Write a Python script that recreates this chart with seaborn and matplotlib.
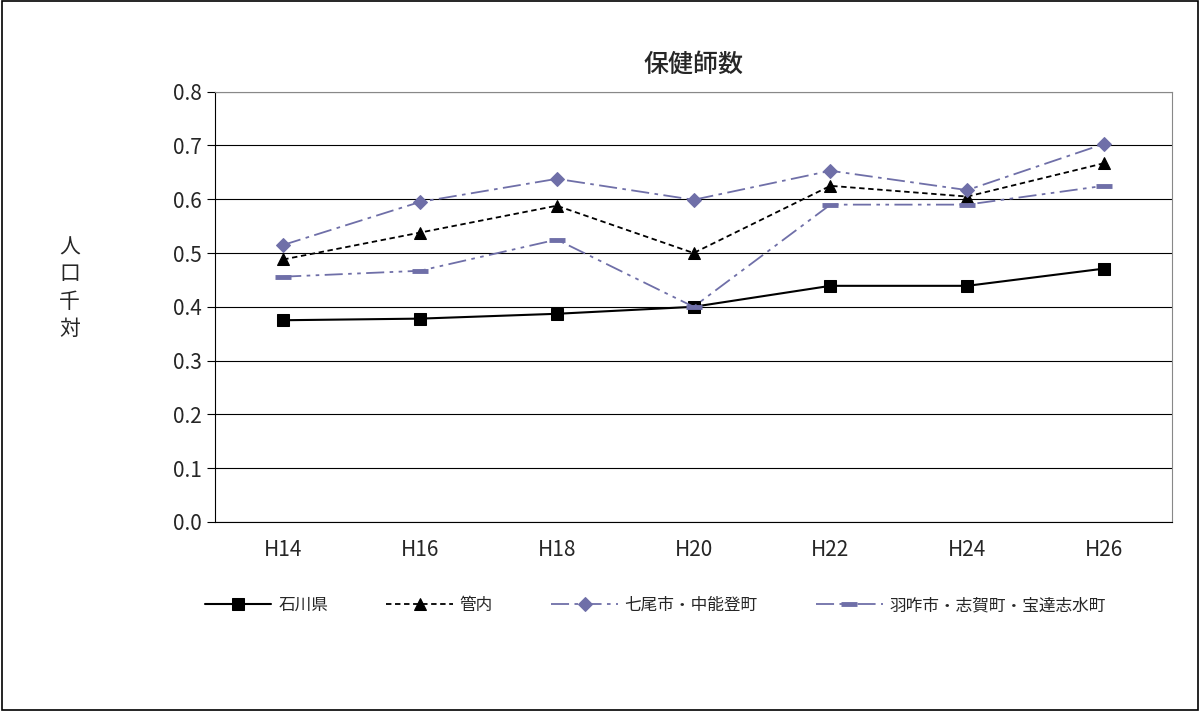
import numpy as np
import pandas as pd
import matplotlib
matplotlib.use("Agg")
import matplotlib.pyplot as plt
import seaborn as sns

years = ["H14", "H16", "H18", "H20", "H22", "H24", "H26"]
ishikawa = [0.375, 0.378, 0.387, 0.400, 0.439, 0.439, 0.471]
kannai = [0.488, 0.538, 0.588, 0.500, 0.625, 0.605, 0.667]
nanao = [0.515, 0.595, 0.638, 0.599, 0.653, 0.617, 0.703]
hakui = [0.456, 0.467, 0.525, 0.400, 0.590, 0.590, 0.625]

names = ["石川県", "管内", "七尾市・中能登町", "羽咋市・志賀町・宝達志水町"]
series = [ishikawa, kannai, nanao, hakui]

sns.set_style("white")
plt.rcParams['font.family'] = ['Noto Sans CJK JP', 'DejaVu Sans']

purple = "#6F6FA8"
styles = [
    dict(color="black", linestyle="-", marker="s", markersize=9, linewidth=1.5,
         markeredgecolor="black"),
    dict(color="black", linestyle=(0, (3, 2)), marker="^", markersize=9, linewidth=1.3,
         markeredgecolor="black"),
    dict(color=purple, linestyle=(0, (10, 3, 2, 3)), marker="D", markersize=7, linewidth=1.3,
         markeredgecolor=purple),
    dict(color=purple, linestyle=(0, (10, 3, 2, 3, 2, 3)), marker="_", markersize=12,
         markeredgewidth=3.5, markeredgecolor=purple, linewidth=1.3),
]

fig = plt.figure(figsize=(12, 7.11), dpi=100)
ax = fig.add_axes([0.179, 0.266, 0.798, 0.605])
x = np.arange(len(years))
for name, vals, st in zip(names, series, styles):
    sns.lineplot(x=x, y=vals, ax=ax, label=name, **st)

ax.set_xlim(-0.5, len(years) - 0.5)
ax.set_ylim(0, 0.8)
ax.set_yticks(np.arange(0, 0.81, 0.1))
ax.set_yticklabels([f"{v:.1f}" for v in np.arange(0, 0.81, 0.1)], fontsize=15)
ax.set_xticks(x)
ax.set_xticklabels(years, fontsize=15)
ax.tick_params(axis="x", length=0, pad=12)
ax.set_xticks(np.arange(-0.5, len(years)), minor=True)
ax.tick_params(axis="x", which="minor", length=6, direction="out", color="black")
ax.tick_params(axis="y", length=6, direction="out", color="black", left=True)
ax.yaxis.grid(True, color="black", linewidth=0.8)
for s in ax.spines.values():
    s.set_color("#888888")
ax.spines["left"].set_color("black")
ax.spines["bottom"].set_color("black")
ax.set_title("保健師数", fontsize=18, pad=14, fontweight="medium")
ax.set_ylabel("")
fig.text(0.058, 0.595, "人\n口\n千\n対", fontsize=15, ha="center", va="center", linespacing=1.3)

ax.legend(loc="upper center", bbox_to_anchor=(0.46, -0.14), ncol=4, frameon=False,
          fontsize=12, handlelength=4, handletextpad=0.4, columnspacing=3.5)

fig.add_artist(plt.Rectangle((0.002, 0.002), 0.996, 0.996, transform=fig.transFigure,
                             fill=False, edgecolor="black", linewidth=1.2))
fig.savefig("out.png", dpi=100)
